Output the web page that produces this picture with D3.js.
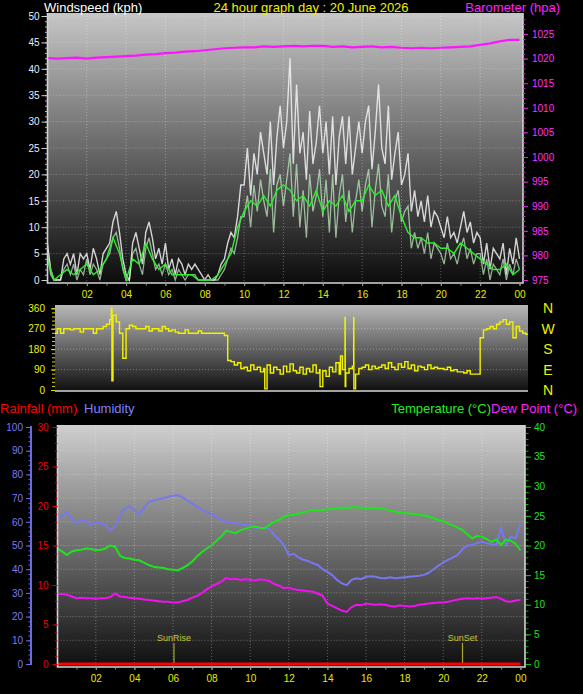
<!DOCTYPE html>
<html><head><meta charset="utf-8">
<script src="https://cdn.jsdelivr.net/npm/d3@7"></script>
<style>
body{margin:0;background:#000;}
svg{display:block;font-family:"Liberation Sans",Arial,sans-serif;}
</style>
</head><body>
<svg id="chart" width="583" height="694"></svg>
<script>
// ---------------- DATA ----------------
const chartTitle = "24 hour graph day : 20 June 2026";
const hourTickValues = [2,4,6,8,10,12,14,16,18,20,22,24];
const hourTickLabels = ["02","04","06","08","10","12","14","16","18","20","22","00"];

// wind gust (kph), one value every 10 minutes, 00:00 .. 24:00
const windGust = [
  7,2,0,0,0,4,   5,3,5,1,5,4,   5,2,6,4,1,5,   6,7,11,13,9,4,
  1,0,7,9,6,3,   9,11,8,4,6,3,  7,2,4,1,4,3,   1,3,2,3,2,1,
  0,1,0,0,1,3,   4,7,9,8,12,18, 18,25,16,24,20,28, 24,20,30,18,27,33,
  25,30,42,22,37,24, 28,19,32,22,26,33, 24,30,20,31,18,27, 31,22,31,20,25,30,
  24,30,33,21,28,37, 25,22,33,19,24,28, 18,20,24,13,17,12, 15,11,16,10,13,12,
  10,8,12,8,9,7, 10,13,9,11,7,9, 8,3,7,2,6,5, 4,7,1,6,3,8, 4
];
// wind speed (kph), every 10 minutes
const windSpeed = [
  5,1,0,0,0,2,   3,1,3,0,2,1,   4,1,3,2,0,3,   4,5,8,9,6,2,
  0,0,5,6,3,1,   6,8,5,2,3,1,   3,1,2,0,2,1,   0,1,1,1,0,0,
  0,0,0,0,0,1,   2,4,6,5,8,12,  12,16,10,18,13,19, 15,12,21,9,18,20,
  14,19,24,12,22,10, 17,8,20,13,16,21, 12,19,9,20,8,16, 20,11,17,9,15,19,
  13,18,21,10,17,22, 14,12,20,9,15,17, 11,13,14,6,9,6, 8,5,9,4,7,6,
  5,3,7,4,5,3, 6,8,4,6,3,5, 5,1,4,0,3,2, 1,4,0,3,1,4, 2
];
// average wind (kph), every 20 minutes
const windAvg = [
  4,0,1, 2,1,2, 3,1,2, 4,8,5, 0,4,3, 7,4,2, 3,1,1, 1,1,0,
  0,0,1, 3,5,10, 13,15,14, 16,14,17, 18,17,15, 16,14,17, 13,15,14, 16,13,15,
  15,18,16, 17,14,16, 12,9,8, 8,7,7, 6,6,5, 7,6,5, 4,3,2, 2,3,1, 2
];
// barometer (hpa), every 30 minutes
const barometer = [
  1020.1,1020.0,1020.1,1020.2,1020.0,1020.2,1020.3,1020.4,1020.5,1020.6,
  1020.8,1020.9,1021.1,1021.2,1021.4,1021.5,1021.7,1021.9,1022.1,1022.2,
  1022.3,1022.3,1022.5,1022.4,1022.5,1022.6,1022.5,1022.6,1022.6,1022.4,
  1022.5,1022.3,1022.4,1022.5,1022.3,1022.4,1022.2,1022.1,1022.2,1022.1,
  1022.2,1022.3,1022.4,1022.5,1022.8,1023.1,1023.5,1023.8,1023.8
];
// wind direction (deg), every 10 minutes, 00:00 .. 24:30
const windDir = [
  290,255,250,270,250,270, 270,265,270,270,255,270, 270,270,250,270,270,280,
  290,310,330,300,250,140, 270,285,280,270,270,270, 280,260,270,270,260,280,
  270,260,265,255,250,250, 265,250,250,250,260,250, 250,250,250,250,250,250,
  240,130,125,110,120,95, 100,85,110,90,100,80, 95,110,75,100,90,70,
  105,80,115,85,75,100, 70,95,80,110,75,90, 85,60,100,80,120,70,
  90,75,95,105,70,95, 100,110,90,105,95,100, 110,95,120,100,90,115,
  100,125,95,110,85,105, 100,90,110,95,100,95, 95,90,100,85,90,80,
  80,75,85,70,70,70, 230,265,270,280,270,290, 300,310,290,300,230,280,
  260,250,245,245
];
// short direction spikes: time (h) and value (deg)
const dirSpikeTimes  = [3.25, 3.28, 11.05, 13.86, 14.9, 15.13, 15.14, 15.57, 15.58];
const dirSpikeValues = [360,  40,   5,     15,    150,  320,   15,    320,   5];

// humidity (%), every 15 minutes
const humidity = [
  61.5,62.5,64.3,61,59.4,60.5,60,58.6,60,59.5,58.6,56.5,58,63,65.5,66.4,
  65,63,66,68.5,69,69.5,70,70.6,71,71.3,70.2,69,67.8,66.3,65,64,
  63.3,62,60.8,60,59.8,59.4,59,58.8,58.6,57.5,57.2,57.4,57,54.4,52.5,50,
  46,46.5,45,44,43.5,42.5,41.8,40,38.9,37.5,35.4,34,33.3,35.5,36.2,35.8,
  36.8,37,36.8,36.3,36.2,36.6,36.2,36.4,36.6,36.8,37,37.2,37.6,38.5,40,41.5,
  42.8,43.9,45,46,48.5,50,50.2,51,51.6,51,50.5,50.2,57.5,50.2,53.7,53,59.4
];
// temperature (°C), every 15 minutes
const temperature = [
  19.5,19,18.4,19,19.2,19.3,19.5,19.4,19.2,19.3,19.5,20,19.8,18.3,17.9,17.8,
  17.6,17.5,17.1,16.7,16.4,16.3,16.2,16,15.9,15.8,16.2,16.7,17.3,18.2,18.9,19.5,
  20,20.8,21.5,22.5,22.3,22.1,22.6,22.8,23.1,23.2,23,22.9,23.5,24,24.3,24.9,
  25.1,25.2,25.4,25.6,25.8,26,25.9,26,26.1,26.2,26.3,26.4,26.3,26.5,26.4,26.4,
  26.3,26.4,26.3,26.3,26.1,25.9,25.7,25.6,25.5,25.4,25.3,25.2,25.1,24.9,24.6,24.3,
  24.1,23.7,23.4,23,22.6,21.9,21.2,21.6,21.5,21.1,20.6,21,20.1,21,20.8,20.3,19.2
];
// dew point (°C), every 15 minutes
const dewPoint = [
  11.8,11.8,11.7,11.4,11.1,11.2,11.1,11.1,11.0,11.1,11.1,11.3,11.9,11.4,11.3,11.2,
  11.1,11.0,10.9,10.8,10.7,10.6,10.5,10.5,10.4,10.4,10.6,10.8,11.2,11.5,12.0,12.6,
  13.1,13.5,13.9,14.5,14.3,14.4,14.2,14.3,14.2,14.1,14.3,14.2,14.0,13.5,13.2,12.8,
  12.9,12.6,12.5,12.4,12.3,12.2,11.9,11.5,10.2,9.8,9.4,9.0,8.8,9.6,10.0,9.9,
  10.2,10.1,10.0,10.1,10.0,9.8,9.7,9.9,9.8,9.7,9.8,10.0,10.1,10.2,10.3,10.4,
  10.4,10.5,10.7,10.9,11.0,11.1,11.0,11.1,11.0,11.1,11.2,11.3,11.0,10.6,10.5,10.7,10.8
];
// rainfall (mm), hourly
const rainfall = [0,0,0,0,0,0,0,0,0,0,0,0,0,0,0,0,0,0,0,0,0,0,0,0,0];
const sunEventNames = ["SunRise", "SunSet"];
const sunEventTimes = [6.05, 21.0];
const compassLabels = ["N","W","S","E","N"];
const compassValues = [360,270,180,90,0];

// ---------------- HELPERS ----------------
const series = (arr, stepHours) => arr.map((v, i) => ({t: i * stepHours, v}));

const svg = d3.select("#chart");
const defs = svg.append("defs");
function grad(id, c0, c1) {
  const g = defs.append("linearGradient").attr("id", id).attr("x1",0).attr("y1",0).attr("x2",0).attr("y2",1);
  g.append("stop").attr("offset","0%").attr("stop-color", c0);
  g.append("stop").attr("offset","100%").attr("stop-color", c1);
}
grad("gTop", "#c6c6c6", "#0c0c0c");
grad("gMid", "#b8b8b8", "#0e0e0e");
grad("gBot", "#cfcfcf", "#0e0e0e");

svg.append("rect").attr("width",583).attr("height",694).attr("fill","#000");

const gridStroke = "rgba(255,255,255,0.32)";

function panel(x0, y0, x1, y1, gid, clipId) {
  svg.append("rect").attr("x",x0).attr("y",y0).attr("width",x1-x0).attr("height",y1-y0)
    .attr("fill", `url(#${gid})`);
  defs.append("clipPath").attr("id", clipId).append("rect")
    .attr("x",x0).attr("y",y0).attr("width",x1-x0).attr("height",y1-y0);
}
function border(x0, y0, x1, y1) {
  svg.append("path").attr("d", `M${x0},${y0}V${y1}H${x1}V${y0}`)
    .attr("fill","none").attr("stroke","#d4d4d4").attr("stroke-width",1.6);
}
function styleAxis(g, color, fontSize, textColor) {
  g.select(".domain").remove();
  g.selectAll("line").attr("stroke", color);
  g.selectAll("text").attr("fill", textColor || color).attr("font-size", fontSize)
    .attr("font-family", '"Liberation Sans",Arial,sans-serif');
}

// ---------------- TOP PANEL (wind / barometer) ----------------
const T = {x0:47.5, y0:13, x1:523, y1:283};
const xTop = d3.scaleLinear().domain([0,24]).range([47.4, 519.5]);
const yWind = d3.scaleLinear().domain([0,50]).range([280,16]);
const yBaro = d3.scaleLinear().domain([975,1025]).range([280,34]);
panel(T.x0, T.y0, T.x1, T.y1, "gTop", "cTop");

const gridTop = svg.append("g");
gridTop.selectAll(".h").data(d3.range(5,51,5)).join("line")
  .attr("x1",T.x0).attr("x2",T.x1).attr("y1",d=>yWind(d)).attr("y2",d=>yWind(d))
  .attr("stroke",gridStroke).attr("stroke-dasharray","1,2");
gridTop.selectAll(".v").data(hourTickValues.slice(0,-1)).join("line")
  .attr("y1",T.y0).attr("y2",T.y1).attr("x1",d=>xTop(d)).attr("x2",d=>xTop(d))
  .attr("stroke",gridStroke).attr("stroke-dasharray","1,2");

const plotTop = svg.append("g").attr("clip-path","url(#cTop)");
const lineWind = d3.line().x(d=>xTop(d.t)).y(d=>yWind(d.v));
plotTop.append("path").datum(series(windGust,1/6)).attr("d",lineWind)
  .attr("fill","none").attr("stroke","#f2f2f2").attr("stroke-width",1.4).attr("opacity",0.85);
plotTop.append("path").datum(series(windSpeed,1/6)).attr("d",lineWind)
  .attr("fill","none").attr("stroke","#c8f2c8").attr("stroke-width",1.3).attr("opacity",0.7);
plotTop.append("path").datum(series(windAvg,1/3)).attr("d",lineWind)
  .attr("fill","none").attr("stroke","#2cf02c").attr("stroke-width",1.4);
plotTop.append("path").datum(series(barometer,0.5))
  .attr("d", d3.line().x(d=>xTop(d.t)).y(d=>yBaro(d.v)))
  .attr("fill","none").attr("stroke","#ff14ff").attr("stroke-width",2.2);
border(T.x0, T.y0, T.x1, T.y1);

// axes
let g = svg.append("g").attr("transform",`translate(${T.x0},0)`)
  .call(d3.axisLeft(yWind).tickValues(d3.range(0,51,1)).tickSize(2.5).tickFormat(""));
styleAxis(g, "#bbbbbb", 10);
g = svg.append("g").attr("transform",`translate(${T.x0},0)`)
  .call(d3.axisLeft(yWind).tickValues(d3.range(0,51,5)).tickSize(6).tickPadding(2));
styleAxis(g, "#cfcfcf", 10, "#e6ecff");
g = svg.append("g").attr("transform",`translate(${T.x1},0)`)
  .call(d3.axisRight(yBaro).tickValues(d3.range(975,1029,1)).tickSize(2.5).tickFormat(""));
styleAxis(g, "#e020e0", 10);
g = svg.append("g").attr("transform",`translate(${T.x1},0)`)
  .call(d3.axisRight(yBaro).tickValues(d3.range(975,1026,5)).tickSize(5).tickPadding(4).tickFormat(d3.format("d")));
styleAxis(g, "#ee22ee", 10, "#ff30ff");
g = svg.append("g").attr("transform",`translate(0,${T.y1})`)
  .call(d3.axisBottom(xTop).tickValues(d3.range(1,25,1)).tickSize(2.5).tickFormat(""));
styleAxis(g, "#9a9a9a", 10);
g = svg.append("g").attr("transform",`translate(0,${T.y1})`)
  .call(d3.axisBottom(xTop).tickValues(hourTickValues).tickSize(3)
    .tickFormat((d,i)=>hourTickLabels[i]).tickPadding(5));
styleAxis(g, "#9a9a9a", 10, "#e8e800");

// titles
svg.append("text").attr("x",44).attr("y",12).attr("fill","#ffffff").attr("font-size",13).text("Windspeed (kph)");
svg.append("text").attr("x",311).attr("y",12).attr("text-anchor","middle").attr("fill","#f0f000").attr("font-size",13).text(chartTitle);
svg.append("text").attr("x",560).attr("y",12).attr("text-anchor","end").attr("fill","#ff20ff").attr("font-size",13).text("Barometer (hpa)");

// ---------------- MIDDLE PANEL (wind direction) ----------------
const M = {x0:55, y0:305, x1:528, y1:392};
const yDir = d3.scaleLinear().domain([0,360]).range([390,308.3]);
panel(M.x0, M.y0, M.x1, M.y1, "gMid", "cMid");
svg.append("g").selectAll("line").data([90,180,270]).join("line")
  .attr("x1",M.x0).attr("x2",M.x1).attr("y1",d=>yDir(d)).attr("y2",d=>yDir(d))
  .attr("stroke",gridStroke).attr("stroke-dasharray","1,2");
const dirPoints = series(windDir,1/6)
  .concat(dirSpikeTimes.map((t,i)=>({t, v:dirSpikeValues[i]})))
  .sort((a,b)=>a.t-b.t);
svg.append("g").attr("clip-path","url(#cMid)").append("path").datum(dirPoints)
  .attr("d", d3.line().curve(d3.curveStepAfter).x(d=>xTop(d.t)).y(d=>yDir(d.v)))
  .attr("fill","none").attr("stroke","#f2f200").attr("stroke-width",1.4);
svg.append("line").attr("x1",M.x0).attr("x2",M.x1).attr("y1",M.y1-1).attr("y2",M.y1-1)
  .attr("stroke","#d4d4d4").attr("stroke-width",1.6);
g = svg.append("g").attr("transform",`translate(${M.x0},0)`)
  .call(d3.axisLeft(yDir).tickValues(d3.range(0,361,18)).tickSize(3).tickFormat(""));
styleAxis(g, "#d8d800", 10);
g = svg.append("g").attr("transform",`translate(${M.x0},0)`)
  .call(d3.axisLeft(yDir).tickValues([0,90,180,270,360]).tickSize(4).tickPadding(6));
styleAxis(g, "#e0e000", 10, "#f0f000");
svg.append("g").selectAll("text").data(compassValues).join("text")
  .attr("x",548).attr("y",d=>yDir(d)+5).attr("text-anchor","middle")
  .attr("fill","#f0f000").attr("font-size",14).text((d,i)=>compassLabels[i]);

// ---------------- BOTTOM PANEL (temp / humidity / rain) ----------------
const B = {x0:57.5, y0:425, x1:525, y1:667};
const xBot = d3.scaleLinear().domain([0,24]).range([57.2, 520.4]);
const yHum = d3.scaleLinear().domain([0,100]).range([664,427]);
const yTemp = d3.scaleLinear().domain([0,40]).range([664,427]);
const yRain = d3.scaleLinear().domain([0,30]).range([664,427]);
panel(B.x0, B.y0, B.x1, B.y1, "gBot", "cBot");
svg.append("g").selectAll("line").data(d3.range(10,100,10)).join("line")
  .attr("x1",B.x0).attr("x2",B.x1).attr("y1",d=>yHum(d)).attr("y2",d=>yHum(d))
  .attr("stroke",gridStroke).attr("stroke-dasharray","1,2");
svg.append("g").selectAll("line").data(hourTickValues.slice(0,-1)).join("line")
  .attr("y1",B.y0).attr("y2",B.y1).attr("x1",d=>xBot(d)).attr("x2",d=>xBot(d))
  .attr("stroke",gridStroke).attr("stroke-dasharray","1,2");

// sunrise / sunset
const sunG = svg.append("g");
sunG.selectAll("line").data(sunEventTimes).join("line")
  .attr("x1",d=>xBot(d)).attr("x2",d=>xBot(d)).attr("y1",643).attr("y2",664)
  .attr("stroke","#a8a830").attr("stroke-width",1.2);
sunG.selectAll("text").data(sunEventTimes).join("text")
  .attr("x",d=>xBot(d)).attr("y",641).attr("text-anchor","middle")
  .attr("fill","#c8c838").attr("font-size",9).text((d,i)=>sunEventNames[i]);

const plotBot = svg.append("g").attr("clip-path","url(#cBot)");
plotBot.append("path").datum(series(humidity,0.25))
  .attr("d", d3.line().x(d=>xBot(d.t)).y(d=>yHum(d.v)))
  .attr("fill","none").attr("stroke","#7777ee").attr("stroke-width",2);
plotBot.append("path").datum(series(temperature,0.25))
  .attr("d", d3.line().x(d=>xBot(d.t)).y(d=>yTemp(d.v)))
  .attr("fill","none").attr("stroke","#1ee41e").attr("stroke-width",2);
plotBot.append("path").datum(series(dewPoint,0.25))
  .attr("d", d3.line().x(d=>xBot(d.t)).y(d=>yTemp(d.v)))
  .attr("fill","none").attr("stroke","#f012f0").attr("stroke-width",2);
border(B.x0, B.y0, B.x1, B.y1);
plotBot.append("path").datum(series(rainfall,1))
  .attr("d", d3.line().x(d=>xBot(d.t)).y(d=>yRain(d.v)))
  .attr("fill","none").attr("stroke","#ff0000").attr("stroke-width",3);

// humidity axis
g = svg.append("g").attr("transform",`translate(31,0)`)
  .call(d3.axisLeft(yHum).tickValues(d3.range(0,101,2)).tickSize(2.5).tickFormat(""));
styleAxis(g, "#6a6ae8", 9);
g = svg.append("g").attr("transform",`translate(31,0)`)
  .call(d3.axisLeft(yHum).tickValues(d3.range(0,101,10)).tickSize(5).tickPadding(3));
styleAxis(g, "#6a6ae8", 10, "#7a7af4");
svg.append("line").attr("x1",31).attr("x2",31).attr("y1",yHum(100)-1).attr("y2",yHum(0)+1)
  .attr("stroke","#6a6ae8").attr("stroke-width",2);
// rain axis
g = svg.append("g").attr("transform",`translate(${B.x0},0)`)
  .call(d3.axisLeft(yRain).tickValues(d3.range(0,31,1)).tickSize(2.5).tickFormat(""));
styleAxis(g, "#cc0000", 9);
g = svg.append("g").attr("transform",`translate(${B.x0},0)`)
  .call(d3.axisLeft(yRain).tickValues(d3.range(0,31,5)).tickSize(5).tickPadding(4));
styleAxis(g, "#dd0000", 10, "#ee0000");
// temperature axis
g = svg.append("g").attr("transform",`translate(${B.x1+1},0)`)
  .call(d3.axisRight(yTemp).tickValues(d3.range(0,41,1)).tickSize(2.5).tickFormat(""));
styleAxis(g, "#10b010", 9);
g = svg.append("g").attr("transform",`translate(${B.x1+1},0)`)
  .call(d3.axisRight(yTemp).tickValues(d3.range(0,41,5)).tickSize(5).tickPadding(3));
styleAxis(g, "#10c010", 10, "#20e020");
// x axis
g = svg.append("g").attr("transform",`translate(0,${B.y1})`)
  .call(d3.axisBottom(xBot).tickValues(d3.range(1,25,1)).tickSize(2.5).tickFormat(""));
styleAxis(g, "#9a9a9a", 10);
g = svg.append("g").attr("transform",`translate(0,${B.y1})`)
  .call(d3.axisBottom(xBot).tickValues(hourTickValues).tickSize(3)
    .tickFormat((d,i)=>hourTickLabels[i]).tickPadding(5));
styleAxis(g, "#9a9a9a", 10, "#e8e800");

// legends
svg.append("text").attr("x",0).attr("y",413).attr("fill","#ff0000").attr("font-size",13).text("Rainfall (mm)");
svg.append("text").attr("x",84).attr("y",413).attr("fill","#8080ff").attr("font-size",13).text("Humidity");
svg.append("text").attr("x",491).attr("y",413).attr("text-anchor","end").attr("fill","#22ee22").attr("font-size",13).text("Temperature (°C)");
svg.append("text").attr("x",491).attr("y",413).attr("fill","#ff22ff").attr("font-size",13).text("Dew Point (°C)");
</script>
</body></html>
